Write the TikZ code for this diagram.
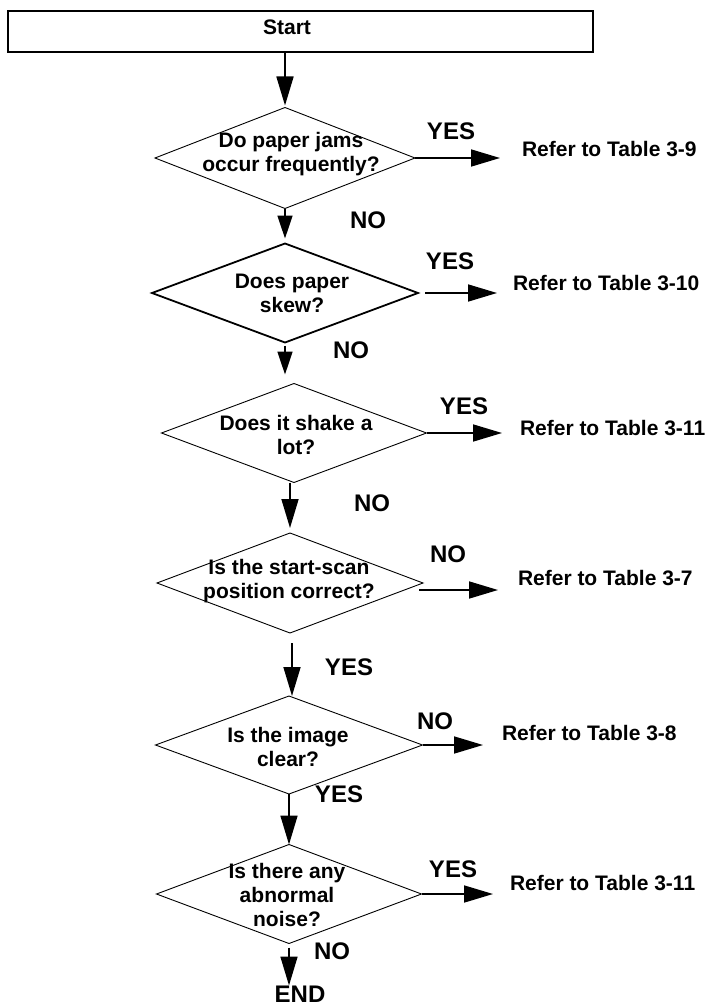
\documentclass[tikz,border=0pt]{standalone}
\usepackage{fontspec}
\setmainfont{Liberation Sans}
\usetikzlibrary{shapes.geometric,arrows.meta}
\begin{document}
\begin{tikzpicture}[x=1pt,y=-1pt,
  every node/.style={inner sep=0pt,outer sep=0pt},
  txt/.style={font=\fontsize{21}{24}\selectfont\bfseries},
  ans/.style={font=\fontsize{24}{26}\selectfont\bfseries},
  decision/.style={diamond,draw,line width=0.9pt,inner sep=0pt,outer sep=0pt},
  qtext/.style={txt,align=center},
  arr/.style={line width=1.7pt,-{Triangle[length=29pt,width=17pt]}},
  arrshort/.style={line width=1.7pt,-{Triangle[length=23pt,width=15pt]}}]
\useasboundingbox (0,0) rectangle (713,1006);

% start box
\node[draw,line width=2pt,minimum width=585pt,minimum height=41pt,
  label={[txt,xshift=-13.5pt,yshift=4pt]center:Start}] (start) at (300.5,31.5) {};

% decisions
\node[decision,minimum width=260pt,minimum height=101pt,
  label={[qtext,xshift=6pt,yshift=3.5pt]center:Do paper jams\\occur frequently?}] (d1) at (285,158) {};
\node[decision,line width=1.8pt,minimum width=266pt,minimum height=99pt,
  label={[qtext,xshift=7pt,yshift=0pt]center:Does paper\\skew?}] (d2) at (285,293) {};
\node[decision,minimum width=265pt,minimum height=99pt,
  label={[qtext,xshift=2pt,yshift=-1.5pt]center:Does it shake a\\lot?}] (d3) at (294,433) {};
\node[decision,minimum width=266pt,minimum height=100pt,
  label={[qtext,xshift=-1pt,yshift=1.5pt]center:Is the start-scan\\position correct?}] (d4) at (290,583) {};
\node[decision,minimum width=267pt,minimum height=98pt,
  label={[qtext,xshift=-1pt,yshift=-2pt]center:Is the image\\clear?}] (d5) at (289,745) {};
\node[decision,minimum width=265pt,minimum height=99pt,
  label={[qtext,xshift=-2pt,yshift=-1pt]center:Is there any\\abnormal\\noise?}] (d6) at (289,894) {};

% end
\node[ans,anchor=base] (finish) at (300,1002) {END};

% references
\node[txt,anchor=base west] (r1) at (522,157) {Refer to Table 3-9};
\node[txt,anchor=base west] (r2) at (513,290) {Refer to Table 3-10};
\node[txt,anchor=base west] (r3) at (520,435) {Refer to Table 3-11};
\node[txt,anchor=base west] (r4) at (518,585) {Refer to Table 3-7};
\node[txt,anchor=base west] (r5) at (502,740) {Refer to Table 3-8};
\node[txt,anchor=base west] (r6) at (510,890) {Refer to Table 3-11};

% branch labels
\node[ans] (y1) at (451,131) {YES};
\node[ans] (n1) at (368,220) {NO};
\node[ans] (y2) at (450,261) {YES};
\node[ans] (n2) at (351,350) {NO};
\node[ans] (y3) at (464,406) {YES};
\node[ans] (n3) at (372,503) {NO};
\node[ans] (n4) at (448,554) {NO};
\node[ans] (y4) at (349,667) {YES};
\node[ans] (n5) at (435,721) {NO};
\node[ans] (y5) at (339,794) {YES};
\node[ans] (y6) at (453,869) {YES};
\node[ans] (n6) at (332,951) {NO};

% main flow
\draw[arr,shorten >=2pt] (d1.north |- start.south) -- (d1.north);
\draw[arrshort,shorten >=5pt] (d1.south) -- (d1.south |- d2.north);
\draw[arrshort,shorten <=3pt,shorten >=9pt] (d2.south) -- (d2.south |- d3.north);
\draw[arr,shorten >=5pt] (d4.north |- d3.south) -- (d4.north);
\coordinate (d4down) at ([xshift=2pt]d4.south);
\draw[arr,shorten <=10pt] (d4down) -- (d4down |- d5.north);
\draw[arr] (d5.south) -- (d5.south |- d6.north);
\draw[arr,shorten <=4pt] (d6.south) -- (d6.south |- finish.north);

% side branches
\draw[arr,shorten >=22pt] (d1.east) -- (d1.east -| r1.west);
\draw[arr,shorten <=7pt,shorten >=16pt] (d2.east) -- (d2.east -| r2.west);
\draw[arr,shorten >=18pt] (d3.east) -- (d3.east -| r3.west);
\coordinate (d4out) at ([shift={(-4pt,-7pt)}]d4.east);
\draw[arr,shorten >=20pt] (d4out) -- (d4out -| r4.west);
\draw[arr,shorten >=19pt] (d5.east) -- (d5.east -| r5.west);
\draw[arr,shorten >=17pt] (d6.east) -- (d6.east -| r6.west);
\end{tikzpicture}
\end{document}
